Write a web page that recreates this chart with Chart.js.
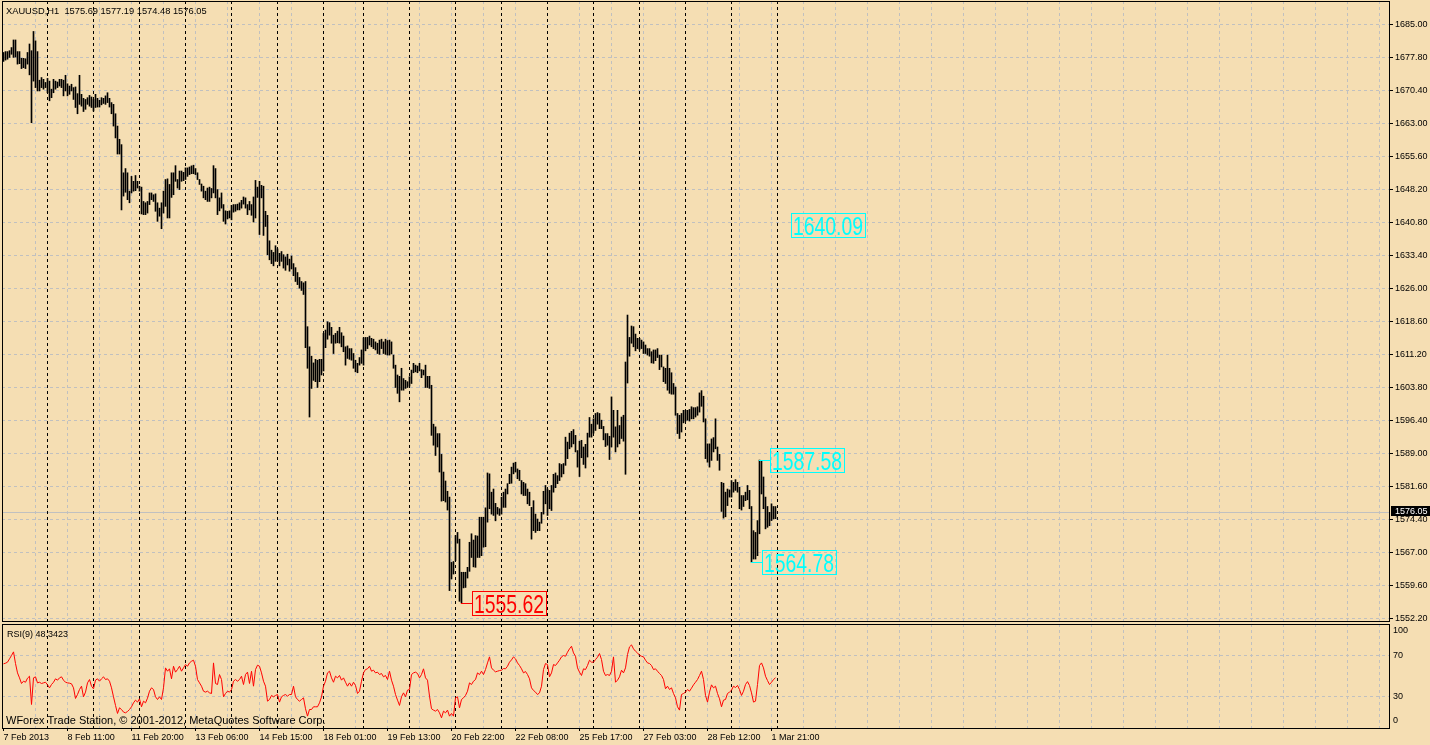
<!DOCTYPE html>
<html>
<head>
<meta charset="utf-8">
<title>XAUUSD,H1</title>
<script src="https://cdn.jsdelivr.net/npm/chart.js@4.4.0/dist/chart.umd.min.js"></script>
<style>
  html, body { margin: 0; padding: 0; background: #F5DEB3; }
  #wrap { position: relative; width: 1430px; height: 745px; overflow: hidden; }
  #wrap canvas { position: absolute; left: 0; top: 0; }
</style>
</head>
<body>
<div id="wrap">
  <canvas id="priceCanvas" width="1430" height="745"></canvas>
  <canvas id="rsiCanvas" width="1430" height="745"></canvas>
</div>
<script>
// ---- data (one entry per H1 bar) ----
const symbol = 'XAUUSD';
const timeframe = 'H1';
const lastBar = [1575.69, 1577.19, 1574.48, 1576.05]; // O H L C

const highs = [
  1678.7, 1678.9, 1678.9, 1679.1, 1679.8, 1681.5, 1681.5, 1678.9, 1678.9, 1677.4,
  1677.4, 1677.3, 1678.7, 1680.6, 1679.1, 1683.4, 1681.3, 1678.9, 1672.5, 1673.1,
  1672.7, 1672.0, 1672.9, 1672.3, 1670.5, 1672.7, 1672.3, 1672.1, 1672.7, 1672.7,
  1672.5, 1673.6, 1671.7, 1671.2, 1671.6, 1670.85, 1671.0, 1669.5, 1673.6, 1669.35,
  1668.45, 1668.2, 1668.6, 1669.1, 1668.75, 1668.2, 1669.35, 1668.45, 1668.0, 1668.6,
  1668.45, 1669.0, 1669.7, 1668.45, 1667.5, 1667.1, 1665.0, 1662.25, 1659.3, 1658.1,
  1651.8, 1652.75, 1651.8, 1647.7, 1651.0, 1649.9, 1651.2, 1649.9, 1648.8, 1648.6,
  1645.4, 1645.1, 1645.4, 1647.3, 1647.3, 1646.9, 1647.1, 1645.1, 1643.9, 1645.1,
  1647.7, 1650.3, 1650.45, 1649.2, 1651.8, 1651.8, 1653.4, 1650.3, 1652.2, 1652.2,
  1651.9, 1652.9, 1652.9, 1653.1, 1653.35, 1653.5, 1652.75, 1651.8, 1650.3, 1649.3,
  1648.8, 1647.7, 1648.4, 1648.6, 1648.3, 1653.4, 1652.75, 1648.05, 1646.2, 1647.3,
  1644.7, 1643.3, 1643.2, 1643.3, 1644.5, 1644.7, 1644.7, 1644.8, 1645.1, 1645.65,
  1646.4, 1646.2, 1644.7, 1645.4, 1644.7, 1646.4, 1650.1, 1648.6, 1649.9, 1649.0,
  1648.8, 1643.2, 1642.3, 1636.6, 1634.5, 1634.0, 1635.5, 1634.8, 1633.8, 1634.2,
  1633.5, 1633.0, 1633.6, 1632.5, 1633.2, 1631.5, 1630.6, 1629.5, 1628.4, 1627.5,
  1627.2, 1627.5, 1617.4, 1612.9, 1610.8, 1609.3, 1610.1, 1609.9, 1610.1, 1610.1,
  1615.9, 1616.65, 1618.5, 1618.3, 1617.25, 1615.5, 1615.9, 1616.4, 1617.25, 1616.05,
  1615.3, 1612.9, 1613.1, 1612.5, 1612.5, 1611.4, 1609.9, 1609.2, 1610.5, 1612.2,
  1614.9, 1615.0, 1615.0, 1615.3, 1614.8, 1614.6, 1614.0, 1613.7, 1614.4, 1614.6,
  1614.0, 1614.6, 1614.3, 1614.4, 1614.0, 1611.05, 1608.8, 1606.6, 1606.3, 1608.1,
  1605.8, 1605.4, 1605.1, 1606.2, 1607.7, 1609.2, 1608.8, 1608.6, 1609.2, 1607.8,
  1607.7, 1608.8, 1606.3, 1606.3, 1604.3, 1595.6, 1595.0, 1593.5, 1593.5, 1588.85,
  1584.9, 1582.9, 1580.6, 1579.3, 1564.7, 1564.9, 1570.7, 1571.4, 1569.9, 1562.5,
  1562.5, 1562.5, 1563.6, 1569.2, 1571.1, 1569.7, 1570.7, 1570.6, 1574.8, 1574.8,
  1574.8, 1576.9, 1584.7, 1584.5, 1580.4, 1581.1, 1577.9, 1577.0, 1576.7, 1579.3,
  1580.4, 1581.1, 1582.3, 1584.4, 1586.0, 1586.9, 1587.1, 1585.6, 1585.3, 1583.0,
  1582.6, 1582.3, 1581.1, 1580.4, 1577.0, 1578.5, 1575.5, 1574.4, 1573.7, 1575.9,
  1580.6, 1581.9, 1581.1, 1580.8, 1581.9, 1584.4, 1584.7, 1584.1, 1586.8, 1586.6,
  1586.8, 1592.7, 1591.6, 1593.6, 1594.0, 1594.4, 1593.1, 1589.7, 1591.8, 1592.0,
  1590.5, 1591.1, 1593.6, 1597.1, 1595.6, 1596.8, 1598.0, 1598.2, 1598.0, 1596.5,
  1595.1, 1593.5, 1593.5, 1592.9, 1601.7, 1598.7, 1595.0, 1598.7, 1595.3, 1597.2,
  1597.6, 1609.5, 1620.0, 1615.0, 1617.55, 1617.4, 1615.75, 1614.8, 1614.8, 1614.4,
  1614.0, 1613.3, 1612.5, 1612.5, 1611.8, 1612.2, 1612.2, 1612.5, 1611.05, 1611.05,
  1608.4, 1608.1, 1611.05, 1608.1, 1607.1, 1604.7, 1603.9, 1598.0, 1597.6, 1598.0,
  1598.7, 1598.7, 1598.7, 1598.9, 1599.5, 1599.3, 1599.3, 1599.5, 1602.6, 1603.1,
  1601.85, 1596.8, 1591.2, 1591.2, 1592.3, 1592.6, 1596.8, 1590.5, 1588.85, 1582.6,
  1582.4, 1580.4, 1581.1, 1580.9, 1583.0, 1582.6, 1583.2, 1582.6, 1581.5, 1579.65,
  1579.65, 1580.4, 1581.9, 1580.8, 1577.2, 1571.8, 1571.4, 1574.05, 1587.58, 1587.3,
  1583.8, 1579.3, 1577.2, 1575.9, 1577.8, 1577.2, 1577.19
];

const lows = [
  1676.7, 1677.0, 1677.2, 1677.6, 1678.3, 1677.6, 1677.7, 1676.1, 1676.2, 1675.1,
  1675.3, 1675.1, 1676.1, 1673.7, 1663.0, 1672.3, 1670.85, 1670.1, 1670.1, 1670.85,
  1670.5, 1670.85, 1669.7, 1667.9, 1668.6, 1669.7, 1670.5, 1670.85, 1671.2, 1670.85,
  1669.0, 1670.1, 1669.0, 1669.35, 1670.1, 1668.2, 1666.4, 1665.0, 1667.1, 1666.7,
  1665.5, 1666.0, 1667.1, 1666.7, 1666.4, 1665.6, 1666.4, 1666.5, 1666.5, 1667.0,
  1667.3, 1667.1, 1667.5, 1666.5, 1665.0, 1662.25, 1659.6, 1656.0, 1656.0, 1643.5,
  1646.6, 1647.45, 1645.8, 1645.1, 1647.3, 1647.7, 1647.8, 1648.4, 1647.7, 1642.6,
  1642.45, 1642.45, 1642.8, 1644.7, 1645.8, 1645.4, 1643.2, 1640.95, 1642.1, 1639.3,
  1642.8, 1644.3, 1641.7, 1641.7, 1646.3, 1646.9, 1649.9, 1648.4, 1648.05, 1649.9,
  1650.05, 1650.3, 1651.0, 1651.4, 1651.6, 1651.6, 1651.4, 1650.3, 1649.2, 1647.7,
  1646.2, 1645.8, 1645.4, 1645.4, 1646.2, 1647.3, 1646.2, 1642.45, 1643.3, 1643.9,
  1640.95, 1640.35, 1641.5, 1641.7, 1641.3, 1643.0, 1643.2, 1643.5, 1643.5, 1643.9,
  1644.8, 1643.9, 1642.45, 1643.5, 1642.3, 1640.8, 1641.7, 1646.3, 1638.0, 1646.2,
  1637.8, 1639.8, 1633.5, 1632.35, 1631.5, 1631.0, 1632.0, 1632.2, 1631.0, 1632.0,
  1630.5, 1630.0, 1631.2, 1629.8, 1630.3, 1628.8, 1627.5, 1626.8, 1626.0, 1625.5,
  1624.6, 1612.7, 1608.1, 1597.2, 1603.6, 1605.4, 1605.1, 1603.8, 1605.1, 1606.6,
  1607.5, 1612.7, 1614.6, 1615.5, 1613.7, 1611.4, 1613.7, 1613.8, 1613.7, 1612.9,
  1611.8, 1608.8, 1610.3, 1610.1, 1609.9, 1608.1, 1607.3, 1607.1, 1608.8, 1609.2,
  1608.8, 1612.0, 1612.5, 1613.3, 1612.9, 1612.5, 1612.2, 1611.4, 1611.2, 1612.5,
  1611.4, 1611.2, 1611.05, 1611.05, 1611.3, 1608.1, 1603.8, 1602.5, 1600.6, 1603.2,
  1603.2, 1603.6, 1603.8, 1604.1, 1604.7, 1607.1, 1607.3, 1607.1, 1607.5, 1606.0,
  1606.6, 1603.8, 1603.8, 1603.6, 1593.1, 1590.9, 1588.6, 1590.5, 1584.9, 1578.4,
  1578.5, 1578.2, 1576.4, 1558.4, 1561.0, 1562.1, 1565.1, 1569.0, 1556.0, 1555.62,
  1559.0, 1559.1, 1561.2, 1562.7, 1565.8, 1563.7, 1563.6, 1565.8, 1565.8, 1566.2,
  1568.1, 1568.2, 1573.7, 1576.7, 1575.5, 1575.2, 1574.0, 1575.5, 1575.2, 1575.5,
  1577.0, 1577.0, 1580.0, 1582.3, 1582.4, 1584.5, 1584.9, 1583.4, 1583.0, 1580.0,
  1579.65, 1579.65, 1577.8, 1577.4, 1569.9, 1571.8, 1571.4, 1571.8, 1571.8, 1573.45,
  1575.5, 1577.8, 1575.2, 1576.7, 1576.3, 1580.4, 1581.4, 1582.3, 1583.0, 1583.8,
  1584.5, 1586.4, 1587.9, 1590.1, 1590.5, 1591.2, 1589.4, 1586.0, 1583.9, 1588.1,
  1586.6, 1585.8, 1588.25, 1592.7, 1592.7, 1593.6, 1594.2, 1595.6, 1594.6, 1594.6,
  1592.1, 1590.6, 1590.9, 1587.7, 1590.5, 1592.7, 1589.4, 1590.5, 1591.2, 1592.4,
  1591.8, 1584.4, 1604.8, 1610.8, 1613.7, 1612.9, 1612.0, 1612.5, 1612.2, 1612.5,
  1611.4, 1611.4, 1611.05, 1610.8, 1609.3, 1609.2, 1609.8, 1610.5, 1607.8, 1608.4,
  1605.1, 1604.7, 1603.2, 1602.5, 1602.3, 1602.3, 1597.6, 1593.5, 1592.4, 1593.85,
  1595.9, 1596.3, 1596.5, 1596.3, 1596.8, 1596.8, 1597.2, 1597.6, 1598.3, 1599.6,
  1596.1, 1587.9, 1587.1, 1586.0, 1587.5, 1589.4, 1590.1, 1587.5, 1585.3, 1576.1,
  1574.6, 1574.9, 1577.4, 1579.3, 1579.3, 1580.4, 1580.8, 1580.4, 1576.7, 1576.4,
  1577.2, 1578.5, 1578.7, 1576.7, 1564.78, 1565.45, 1565.45, 1566.2, 1571.1, 1580.0,
  1576.7, 1572.2, 1572.55, 1572.9, 1574.05, 1574.4, 1574.48
];

const rsiValues = [
  61.7, 62.3, 63.3, 66.5, 69.7, 73.2, 62.0, 53.0, 48.2, 42.8,
  45.0, 44.0, 47.9, 49.8, 22.6, 48.2, 49.2, 43.4, 44.0, 42.8,
  43.4, 44.0, 41.5, 38.6, 41.8, 44.0, 47.3, 46.0, 48.2, 49.2,
  46.0, 44.0, 43.4, 43.1, 42.5, 38.6, 28.4, 32.2, 37.0, 40.2,
  30.0, 34.5, 43.4, 46.6, 40.2, 37.7, 46.0, 47.3, 45.0, 47.3,
  49.2, 46.6, 47.3, 45.0, 38.6, 30.0, 21.7, 14.0, 19.4, 17.8,
  15.3, 14.6, 15.9, 17.8, 20.4, 24.2, 26.8, 24.9, 28.1, 20.4,
  25.8, 24.2, 28.7, 35.4, 38.6, 37.0, 30.0, 27.4, 30.0, 27.4,
  38.6, 57.8, 54.6, 56.9, 47.3, 59.4, 53.7, 56.2, 59.4, 54.6,
  57.8, 61.0, 59.4, 62.6, 64.2, 65.2, 59.4, 46.6, 43.4, 40.2,
  35.4, 34.5, 35.4, 33.8, 33.2, 62.6, 42.8, 41.8, 51.4, 46.6,
  30.0, 33.2, 35.4, 34.5, 37.0, 45.0, 46.6, 45.0, 46.6, 49.8,
  41.8, 51.4, 53.7, 42.8, 54.6, 40.2, 56.2, 60.4, 59.4, 53.0,
  45.0, 40.2, 25.8, 27.4, 31.3, 30.0, 31.3, 32.2, 24.9, 30.0,
  31.3, 32.2, 30.6, 32.2, 32.2, 40.2, 30.0, 27.4, 25.8, 27.4,
  29.0, 18.5, 11.4, 17.8, 17.8, 20.4, 20.4, 20.4, 24.2, 30.0,
  40.2, 45.0, 53.0, 54.6, 48.2, 44.0, 49.8, 48.2, 50.5, 46.0,
  48.2, 44.0, 40.2, 43.4, 40.2, 44.0, 40.9, 33.2, 35.4, 45.0,
  53.0, 56.2, 56.9, 59.4, 54.6, 55.6, 53.0, 53.7, 51.4, 52.4,
  49.2, 50.5, 46.6, 54.6, 46.0, 40.2, 32.2, 26.8, 21.7, 30.0,
  33.8, 30.0, 36.4, 37.0, 51.4, 53.0, 53.7, 52.4, 48.2, 51.4,
  56.9, 48.2, 46.0, 30.6, 18.5, 17.2, 16.2, 17.8, 14.6, 9.8,
  16.2, 14.6, 17.2, 11.4, 14.0, 11.4, 29.0, 30.0, 19.4, 27.4,
  29.0, 31.3, 35.4, 43.4, 41.8, 45.0, 46.6, 53.0, 51.4, 54.6,
  51.4, 56.2, 62.6, 68.4, 57.8, 55.6, 54.0, 54.6, 55.2, 55.6,
  57.2, 56.9, 59.4, 63.3, 65.5, 68.4, 66.5, 62.6, 60.1, 56.9,
  53.0, 54.3, 51.4, 47.3, 38.6, 36.1, 34.5, 32.2, 33.8, 40.2,
  56.2, 62.0, 61.0, 49.2, 53.0, 61.0, 60.1, 62.6, 65.2, 68.4,
  69.7, 69.0, 72.9, 76.1, 78.6, 72.2, 69.0, 57.8, 53.7, 50.5,
  56.9, 56.2, 60.1, 65.2, 63.3, 63.3, 65.8, 68.1, 71.6, 65.8,
  54.6, 50.5, 51.4, 50.5, 54.6, 68.4, 44.0, 46.0, 49.2, 55.6,
  53.0, 57.8, 70.6, 78.0, 79.9, 76.1, 73.8, 72.2, 70.0, 69.0,
  68.4, 65.2, 62.6, 62.0, 60.1, 56.2, 56.9, 54.6, 52.4, 50.5,
  46.6, 37.7, 40.2, 37.0, 38.6, 33.2, 29.0, 20.4, 17.2, 32.2,
  33.2, 34.5, 37.0, 35.4, 38.3, 41.5, 44.0, 46.6, 50.5, 54.6,
  46.6, 31.3, 24.9, 34.5, 41.5, 38.6, 40.2, 33.2, 28.1, 20.4,
  26.8, 27.4, 33.2, 34.5, 36.4, 40.2, 38.9, 40.9, 37.0, 31.3,
  35.4, 41.8, 44.6, 40.9, 33.8, 24.9, 25.8, 41.8, 60.1, 62.6,
  57.8, 49.8, 45.6, 41.8, 44.0, 46.6, 48.3423
];

// price scale: tick positions and the labels MT4 printed for them
const priceTickValues = [1685.00, 1677.62, 1670.24, 1662.87, 1655.49, 1648.11, 1640.73, 1633.36, 1625.98,
  1618.60, 1611.22, 1603.84, 1596.47, 1589.09, 1581.71, 1574.33, 1566.96, 1559.58, 1552.20];
const priceTickLabels = ['1685.00', '1677.80', '1670.40', '1663.00', '1655.60', '1648.20', '1640.80', '1633.40', '1626.00',
  '1618.60', '1611.20', '1603.80', '1596.40', '1589.00', '1581.60', '1574.40', '1567.00', '1559.60', '1552.20'];
const rsiLevels = [0, 30, 70, 100];

// time axis (bar indexes)
const gridBars = [0, 16, 32, 48, 64, 80, 96, 112, 128, 144, 160, 176, 192, 208, 224, 240, 256, 272, 288, 304,
  320, 336, 352, 368, 384, 400, 416, 432, 448, 464, 480, 496, 512, 528, 544, 560, 576, 592, 608, 624,
  640, 656, 672, 688];
const timeLabelBars = [0, 32, 64, 96, 128, 160, 192, 224, 256, 288, 320, 352, 384];
const timeLabels = ['7 Feb 2013', '8 Feb 11:00', '11 Feb 20:00', '13 Feb 06:00', '14 Feb 15:00', '18 Feb 01:00',
  '19 Feb 13:00', '20 Feb 22:00', '22 Feb 08:00', '25 Feb 17:00', '27 Feb 03:00', '28 Feb 12:00', '1 Mar 21:00'];
const daySeparators = [22, 45, 68, 91, 114, 137, 160, 180, 203, 226, 249, 272, 295, 318, 341, 364, 387];

// zigzag price tags
const priceTags = [
  { bar: 229, price: 1555.62, color: '#FF0000', leader: true },
  { bar: 374, price: 1564.78, color: '#00FFFF', leader: true },
  { bar: 378, price: 1587.58, color: '#00FFFF', leader: true },
  { bar: 393.5, price: 1640.09, color: '#00FFFF', leader: false }
];

const copyright = 'WForex Trade Station, \u00A9 2001-2012, MetaQuotes Software Corp.';

// ---- styling ----
const FONT = "'Liberation Sans', Arial, sans-serif";
const gridColor = '#C0C0C0';
const barRange = { min: -0.75, max: 692.75 };

Chart.defaults.font.family = FONT;

function timeScale(extra) {
  return {
    type: 'linear',
    min: barRange.min,
    max: barRange.max,
    offset: false,
    afterBuildTicks: (s) => { s.ticks = gridBars.map((v) => ({ value: v })); },
    border: { display: false, dash: [3, 3] },
    ...extra
  };
}

function drawSeparators(chart) {
  const { ctx, chartArea: a, scales: { x } } = chart;
  ctx.save();
  ctx.strokeStyle = '#000';
  ctx.lineWidth = 1;
  ctx.setLineDash([3, 3]);
  daySeparators.forEach((b) => {
    const px = Math.floor(x.getPixelForValue(b)) + 0.5;
    ctx.beginPath();
    ctx.moveTo(px, a.top);
    ctx.lineTo(px, a.bottom);
    ctx.stroke();
  });
  ctx.restore();
}

function drawFrame(chart) {
  const { ctx, chartArea: a } = chart;
  ctx.save();
  ctx.strokeStyle = '#000';
  ctx.lineWidth = 1;
  ctx.strokeRect(a.left + 0.5, a.top + 0.5, a.right - a.left, a.bottom - a.top);
  ctx.restore();
}

const pricePanel = {
  id: 'pricePanel',
  beforeDatasetsDraw(chart) {
    const { ctx, chartArea: a, scales: { y } } = chart;
    const by = Math.round(y.getPixelForValue(lastBar[3])) + 0.5;
    ctx.save();
    ctx.strokeStyle = '#C0C0C0';
    ctx.lineWidth = 1;
    ctx.beginPath();
    ctx.moveTo(a.left, by);
    ctx.lineTo(a.right, by);
    ctx.stroke();
    ctx.restore();
    drawSeparators(chart);
  },
  afterDraw(chart) {
    const { ctx, chartArea: a, scales: { x, y } } = chart;
    drawFrame(chart);
    ctx.save();

    // header
    ctx.fillStyle = '#000';
    ctx.font = `9.3px ${FONT}`;
    ctx.textBaseline = 'alphabetic';
    ctx.fillText(`${symbol},${timeframe}  ${lastBar.map((v) => v.toFixed(2)).join(' ')}`, 6, 14);

    // zigzag tags
    priceTags.forEach((t) => {
      const px = x.getPixelForValue(t.bar);
      const py = y.getPixelForValue(t.price);
      const bx = Math.round(t.leader ? px + 10 : px);
      const text = t.price.toFixed(2);
      ctx.font = `26px ${FONT}`;
      const w = Math.round(ctx.measureText(text).width * 0.745) + 4;
      ctx.strokeStyle = t.color;
      ctx.fillStyle = t.color;
      ctx.lineWidth = 1;
      if (t.leader) {
        ctx.beginPath();
        ctx.moveTo(Math.floor(px), Math.round(py) + 0.5);
        ctx.lineTo(bx, Math.round(py) + 0.5);
        ctx.stroke();
      }
      ctx.strokeRect(bx + 0.5, Math.round(py - 12) + 0.5, w, 24);
      ctx.save();
      ctx.translate(bx + 2, py + 9.5);
      ctx.scale(0.745, 1);
      ctx.fillText(text, 0, 0);
      ctx.restore();
    });

    // bid box on the price scale
    const by = Math.round(y.getPixelForValue(lastBar[3]));
    ctx.fillStyle = '#000';
    ctx.fillRect(a.right + 2, by - 6, 1430 - a.right - 2, 10);
    ctx.fillStyle = '#FFF';
    ctx.font = `9px ${FONT}`;
    ctx.textBaseline = 'middle';
    ctx.fillText(lastBar[3].toFixed(2), a.right + 6, by - 0.5);
    ctx.restore();
  }
};

const rsiPanel = {
  id: 'rsiPanel',
  beforeDatasetsDraw(chart) {
    drawSeparators(chart);
  },
  afterDraw(chart) {
    const { ctx, chartArea: a, scales: { y } } = chart;
    drawFrame(chart);
    ctx.save();
    ctx.fillStyle = '#000';
    ctx.font = `9px ${FONT}`;
    ctx.textBaseline = 'middle';
    rsiLevels.forEach((v) => {
      const py = Math.min(Math.max(y.getPixelForValue(v), a.top + 7), a.bottom - 7.5);
      ctx.fillText(String(v), a.right + 4, py);
    });
    ctx.textBaseline = 'alphabetic';
    ctx.fillText(`RSI(9) ${rsiValues[rsiValues.length - 1].toFixed(4)}`, 7, 637);
    ctx.font = `11px ${FONT}`;
    ctx.fillText(copyright, 6, 724);
    ctx.restore();
  }
};

new Chart(document.getElementById('priceCanvas'), {
  type: 'bar',
  data: {
    datasets: [{
      data: highs.map((h, i) => ({ x: i, y: [lows[i], h] })),
      backgroundColor: '#000',
      borderWidth: 0,
      barThickness: 1,
      grouped: false
    }]
  },
  options: {
    responsive: false,
    animation: false,
    events: [],
    layout: { padding: { left: 2, top: 1, right: 0, bottom: 124 } },
    plugins: { legend: { display: false }, tooltip: { enabled: false } },
    scales: {
      x: timeScale({
        afterFit: (s) => { s.height = 0; s.paddingLeft = 0; s.paddingRight = 0; },
        ticks: { display: false, autoSkip: false },
        grid: {
          offset: false,
          drawTicks: false,
          color: (c) => (c.tick && c.tick.value === 0 ? 'transparent' : gridColor)
        }
      }),
      y: {
        position: 'right',
        min: 1551.60,
        max: 1690.21,
        afterBuildTicks: (s) => { s.ticks = priceTickValues.map((v) => ({ value: v })); },
        afterFit: (s) => { s.width = 41; s.paddingTop = 0; s.paddingBottom = 0; },
        ticks: {
          autoSkip: false,
          color: '#000',
          font: { family: FONT, size: 9 },
          padding: 2,
          callback: (v, i) => priceTickLabels[i]
        },
        grid: { color: gridColor, tickColor: '#000', tickLength: 4, tickBorderDash: [] },
        border: { display: false, dash: [3, 3] }
      }
    }
  },
  plugins: [pricePanel]
});

new Chart(document.getElementById('rsiCanvas'), {
  type: 'line',
  data: {
    datasets: [{
      data: rsiValues.map((v, i) => ({ x: i, y: v })),
      borderColor: '#FF0000',
      borderWidth: 1,
      pointRadius: 0,
      tension: 0,
      fill: false
    }]
  },
  options: {
    responsive: false,
    animation: false,
    events: [],
    layout: { padding: { left: 2, top: 624, right: 0, bottom: 0 } },
    plugins: { legend: { display: false }, tooltip: { enabled: false } },
    scales: {
      x: timeScale({
        afterFit: (s) => { s.height = 17; s.paddingLeft = 0; s.paddingRight = 0; },
        ticks: {
          autoSkip: false,
          maxRotation: 0,
          align: 'start',
          padding: 1,
          color: '#000',
          font: { family: FONT, size: 9 },
          callback: (v) => {
            const k = timeLabelBars.indexOf(v);
            return k >= 0 ? timeLabels[k] : '';
          }
        },
        grid: {
          offset: false,
          tickLength: 3,
          tickBorderDash: [],
          color: (c) => (c.tick && c.tick.value === 0 ? 'transparent' : gridColor),
          tickColor: (c) => (c.tick && timeLabelBars.includes(c.tick.value) ? '#000' : 'transparent')
        }
      }),
      y: {
        position: 'right',
        min: 0,
        max: 100,
        afterBuildTicks: (s) => { s.ticks = rsiLevels.map((v) => ({ value: v })); },
        afterFit: (s) => { s.width = 41; s.paddingTop = 0; s.paddingBottom = 0; },
        ticks: { display: false },
        grid: {
          drawTicks: false,
          color: (c) => (c.tick && (c.tick.value === 0 || c.tick.value === 100) ? 'transparent' : gridColor)
        },
        border: { display: false, dash: [3, 3] }
      }
    }
  },
  plugins: [rsiPanel]
});
</script>
</body>
</html>
